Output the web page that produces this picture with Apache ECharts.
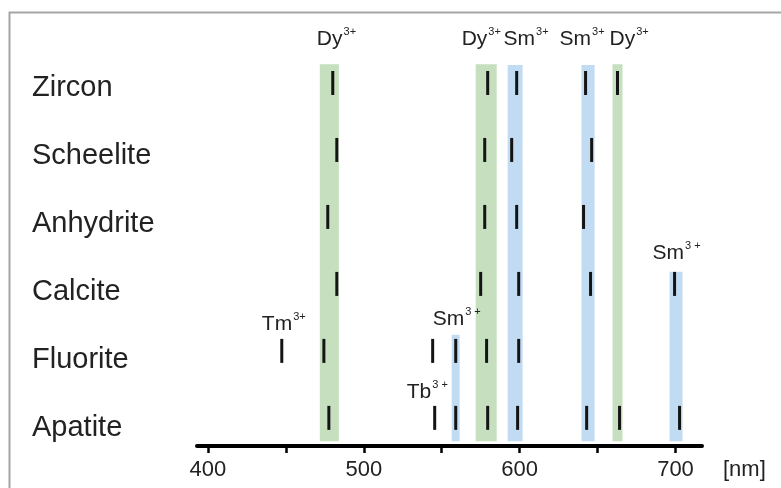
<!DOCTYPE html>
<html>
<head>
<meta charset="utf-8">
<script src="https://cdn.jsdelivr.net/npm/echarts@6/dist/echarts.min.js"></script>
<style>html,body{margin:0;padding:0;background:#fff}#c{width:781px;height:488px}</style>
</head>
<body>
<div id="c"></div>
<script>
// Rows (bottom to top)
const rows = ['Apatite', 'Fluorite', 'Calcite', 'Anhydrite', 'Scheelite', 'Zircon'];
// Emission line wavelengths (nm) per mineral
const apatite   = [477.6, 545.5, 559.0, 579.5, 598.7, 643.0, 664.1, 702.6];
const fluorite  = [447.4, 474.4, 544.2, 559.0, 578.8, 599.4];
const calcite   = [482.7, 575.0, 599.4, 645.5, 699.4];
const anhydrite = [476.9, 577.6, 598.1, 641.0];
const scheelite = [482.7, 577.6, 594.9, 646.2];
const zircon    = [480.1, 579.5, 598.1, 642.3, 662.8];
const lineSets = [apatite, fluorite, calcite, anhydrite, scheelite, zircon];

// Highlight bands (nm) and ion type
const bandLo  = [471.8, 556.4, 571.8, 592.3, 639.7, 659.6, 696.2];
const bandHi  = [484.0, 561.5, 585.3, 601.9, 648.1, 666.0, 704.5];
const bandTop = [5.28, 1.24, 5.28, 5.27, 5.27, 5.28, 2.18];
const bandIon = ['Dy', 'Sm', 'Dy', 'Sm', 'Sm', 'Dy', 'Sm'];
const bandBottom = -0.35;

// Ion labels: element, superscript, wavelength position, row position
const ionName = ['Dy', 'Dy', 'Sm', 'Sm', 'Dy', 'Tm', 'Sm', 'Tb', 'Sm'];
const ionSup  = ['3+', '3+', '3+', '3+', '3+', '3+', '3 +', '3 +', '3 +'];
const ionX    = [469.9, 562.8, 589.7, 625.6, 657.7, 434.6, 544.2, 527.6, 685.3];
const ionY    = [5.66, 5.66, 5.66, 5.66, 5.66, 1.40, 1.48, 0.39, 2.46];

// Axis ticks
const tickValues = [400, 450, 500, 550, 600, 650, 700];
const labelValues = [400, 500, 600, 700];

const ionColor = { Dy: '#c5dfbf', Sm: '#c0dbf2' };
const FONT = '"Liberation Sans", Arial, Helvetica, sans-serif';

const lineData = [];
lineSets.forEach((arr, r) => arr.forEach(v => lineData.push([v, r])));

const areaData = bandLo.map((lo, i) => [
  { xAxis: lo, yAxis: bandBottom, itemStyle: { color: ionColor[bandIon[i]], opacity: 1 } },
  { xAxis: bandHi[i], yAxis: bandTop[i] }
]);

const labelData = ionName.map((n, i) => ({ value: [ionX[i], ionY[i]], name: n, sup: ionSup[i] }));

const chart = echarts.init(document.getElementById('c'), null, { renderer: 'canvas' });
chart.setOption({
  animation: false,
  backgroundColor: '#fff',
  textStyle: { fontFamily: FONT },
  graphic: [{
    type: 'rect', left: 7, top: 10, z: -10,
    shape: { x: 0, y: 0, width: 800, height: 500 },
    style: { fill: 'none', stroke: '#a5a5a5', lineWidth: 2 }
  }],
  grid: { left: 197, right: 79, top: 29.4, bottom: 42, containLabel: false },
  xAxis: {
    type: 'value', min: 393, max: 717,
    name: '[nm]', nameLocation: 'end', nameGap: 21,
    nameTextStyle: { fontSize: 22, color: '#222', verticalAlign: 'top', padding: [13, 0, 0, 0], fontFamily: FONT },
    axisLine: { show: true, onZero: false, lineStyle: { color: '#000', width: 4 } },
    axisTick: { show: true, customValues: tickValues, length: 7, lineStyle: { color: '#000', width: 2.5 } },
    axisLabel: { show: true, customValues: labelValues, fontSize: 22, color: '#222', margin: 13, fontFamily: FONT },
    splitLine: { show: false }
  },
  yAxis: [{
    type: 'value', min: -0.42, max: 5.8, show: false
  }, {
    type: 'value', min: -0.265, max: 5.868, position: 'left',
    axisLine: { show: false }, axisTick: { show: false }, splitLine: { show: false },
    axisLabel: {
      show: true, customValues: [0, 1, 2, 3, 4, 5], align: 'left', margin: 165,
      fontSize: 29, color: '#222', fontFamily: FONT,
      formatter: v => rows[Math.round(v)]
    }
  }],
  series: [{
    type: 'scatter', yAxisIndex: 0, data: [], silent: true, z: 1,
    markArea: { silent: true, data: areaData, label: { show: false } }
  }, {
    type: 'scatter', yAxisIndex: 0, z: 5, silent: true,
    symbol: 'rect', symbolSize: [3, 24],
    itemStyle: { color: '#141414', opacity: 1 },
    data: lineData
  }, {
    type: 'scatter', yAxisIndex: 0, z: 6, silent: true, clip: false,
    symbolSize: 0,
    itemStyle: { opacity: 1 },
    data: labelData,
    label: {
      show: true, position: 'right', distance: 0, color: '#222', opacity: 1,
      formatter: p => '{b|' + p.data.name + '}{s|' + p.data.sup + '}',
      rich: {
        b: { fontSize: 21, color: '#222', fontFamily: FONT, lineHeight: 25 },
        s: { fontSize: 11, color: '#222', fontFamily: FONT, verticalAlign: 'top', lineHeight: 13, padding: [0, 0, 0, 1] }
      }
    }
  }]
});
</script>
</body>
</html>
